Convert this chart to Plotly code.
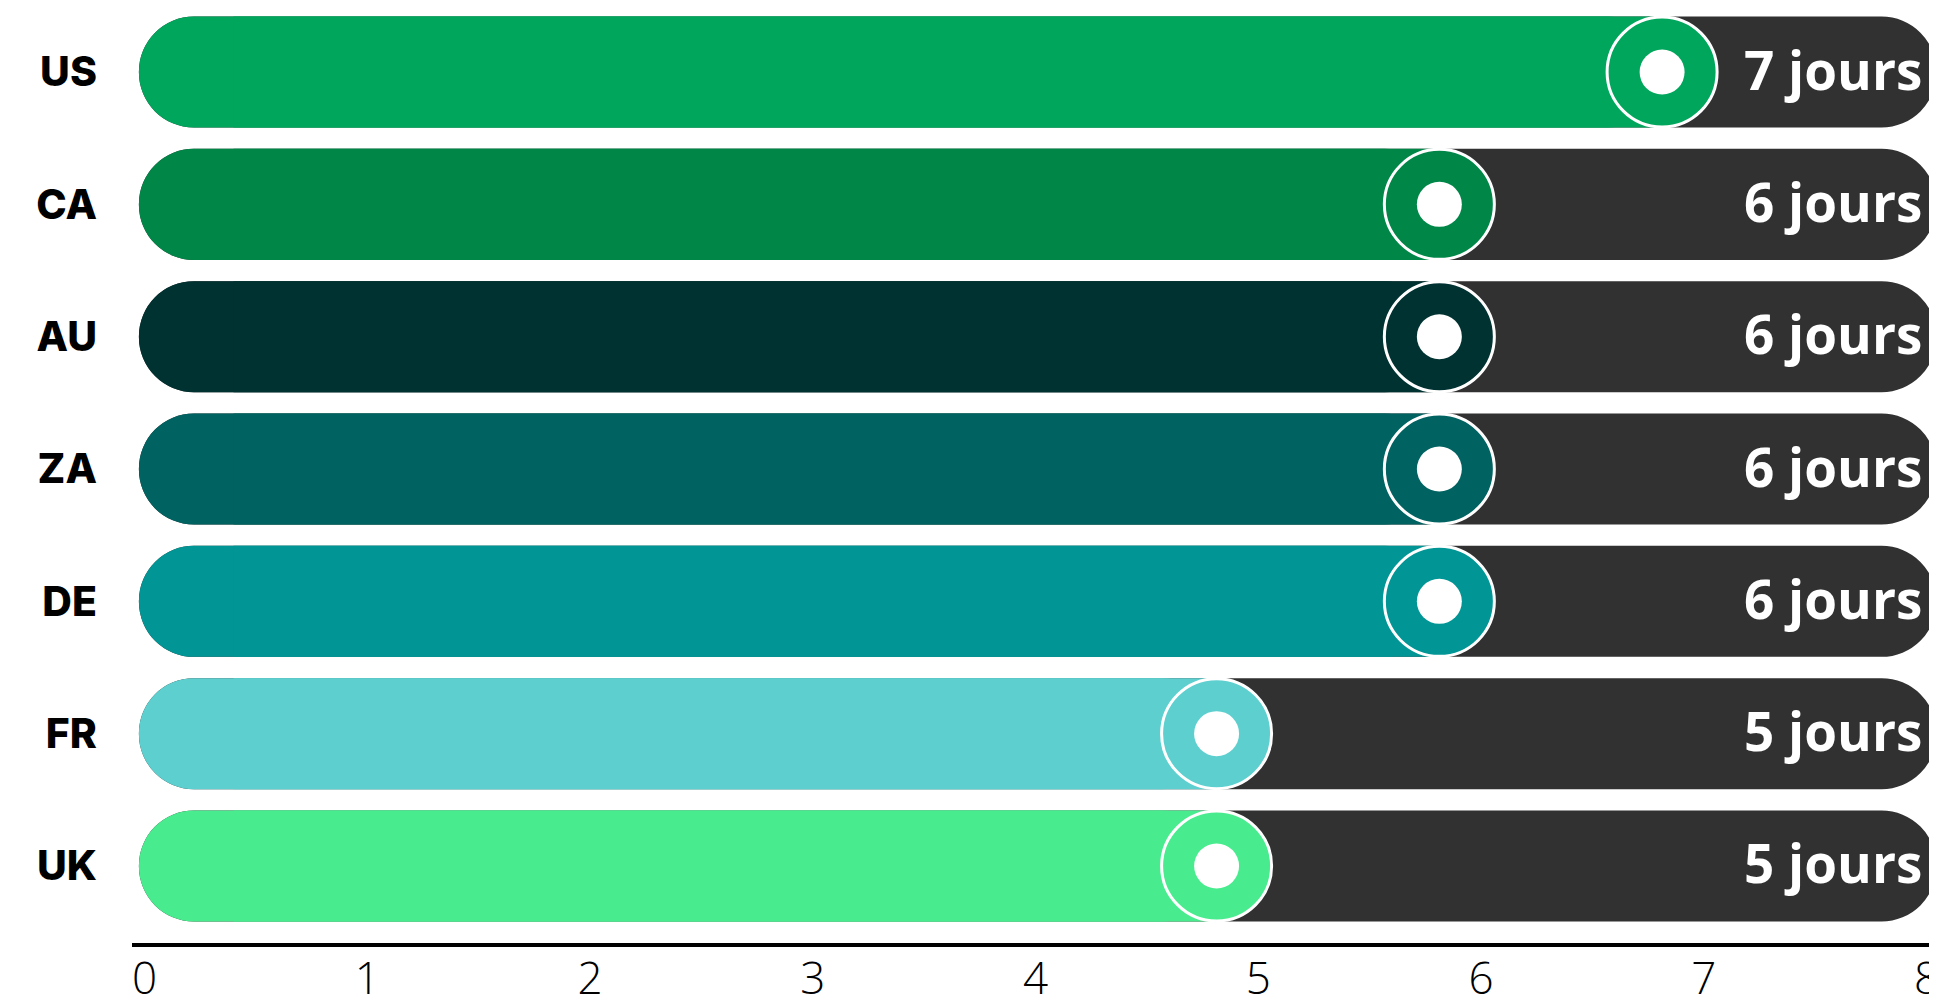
import plotly.graph_objects as go

countries = ["US", "CA", "AU", "ZA", "DE", "FR", "UK"]
days = [7, 6, 6, 6, 6, 5, 5]
labels = ["7 jours", "6 jours", "6 jours", "6 jours", "6 jours", "5 jours", "5 jours"]
colors = ["#00A65C", "#008748", "#003231", "#006261", "#019695", "#5DCFCF", "#48EC8E"]
x_ticks = [0, 1, 2, 3, 4, 5, 6, 7, 8]

TRACK_COLOR = "#313131"
BAR_START = -0.025
TRACK_END = 8.045
MARK_OFFSET = 0.187
BAR_W = 0.839
LABEL_X = 7.99
SQUARE_START = 0.4

mark_x = [d - MARK_OFFSET for d in days]

fig = go.Figure()

# background tracks
fig.add_trace(go.Bar(
    y=countries, x=[TRACK_END - BAR_START] * len(countries), base=BAR_START,
    orientation="h", width=BAR_W,
    marker=dict(color=TRACK_COLOR, cornerradius="50%", line=dict(width=0)),
    hoverinfo="skip", showlegend=False,
))

# coloured bars (rounded left end)
fig.add_trace(go.Bar(
    y=countries, x=[m - BAR_START for m in mark_x], base=BAR_START,
    orientation="h", width=BAR_W,
    marker=dict(color=colors, cornerradius="50%", line=dict(width=0)),
    hoverinfo="skip", showlegend=False,
))
# square right end of coloured bars
fig.add_trace(go.Bar(
    y=countries, x=[m - SQUARE_START for m in mark_x], base=SQUARE_START,
    orientation="h", width=BAR_W,
    marker=dict(color=colors, line=dict(width=0)),
    hoverinfo="skip", showlegend=False,
))

# ring markers
fig.add_trace(go.Scatter(
    y=countries, x=mark_x, mode="markers",
    marker=dict(size=110, color=colors, line=dict(color="white", width=3)),
    hoverinfo="skip", showlegend=False, cliponaxis=False,
))
fig.add_trace(go.Scatter(
    y=countries, x=mark_x, mode="markers",
    marker=dict(size=45, color="white", line=dict(width=0)),
    hoverinfo="skip", showlegend=False, cliponaxis=False,
))

for c, lab in zip(countries, labels):
    fig.add_annotation(
        x=LABEL_X, y=c, text=lab, showarrow=False,
        xanchor="right", yanchor="middle", yshift=3,
        font=dict(family="Open Sans", size=53, color="white", weight=700),
    )

fig.update_layout(
    width=1937, height=997,
    margin=dict(l=124, r=0, t=0, b=62),
    paper_bgcolor="white", plot_bgcolor="white",
    barmode="overlay",
    xaxis=dict(
        range=[-0.056, 8.083], tickvals=x_ticks, ticktext=[str(t) for t in x_ticks],
        showgrid=False, zeroline=False, showline=True, linecolor="black", linewidth=4,
        ticks="", tickfont=dict(family="Open Sans", size=44, color="black", weight=300),
        ticklabelstandoff=-6, ticklabeloverflow="allow", automargin=False,
    ),
    yaxis=dict(
        type="category", categoryorder="array", categoryarray=countries[::-1],
        range=[-0.582, 6.484], showgrid=False, zeroline=False, showline=False,
        ticks="", tickfont=dict(family="Inter", size=41, color="black", weight=800),
        ticklabelstandoff=34, automargin=False,
    ),
)

fig.write_html("out.html")
